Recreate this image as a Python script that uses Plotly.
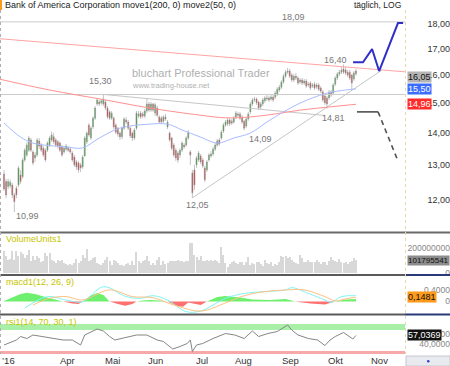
import numpy as np
import plotly.graph_objects as go

W, H = 450, 366

# ---------------- data ----------------
opens = [12.74,12.52,12.38,12.40,12.42,12.14,12.33,12.42,12.71,12.66,
         13.16,13.31,13.46,13.78,13.40,13.22,13.31,13.75,13.62,13.52,
         13.46,13.46,13.62,13.78,13.88,13.78,13.72,13.68,13.56,13.40,
         13.49,13.52,13.49,13.37,13.25,13.10,13.07,13.01,12.95,13.28,
         13.72,14.26,13.84,14.20,14.49,14.97,15.04,15.01,14.97,15.04,
         14.83,14.70,14.49,14.49,14.26,14.16,14.00,13.88,14.16,14.43,
         14.36,14.16,14.00,13.84,14.16,14.56,14.66,14.63,14.56,14.73,
         14.97,14.76,14.97,14.66,14.83,14.53,14.49,14.39,14.53,14.20,
         14.00,13.84,13.62,13.46,13.37,13.31,13.46,13.62,13.62,13.84,
         13.40,12.77,12.86,13.01,13.16,13.28,13.16,12.92,12.86,13.16,
         13.28,13.34,13.49,13.62,13.78,13.84,14.06,14.26,14.30,14.43,
         14.39,14.36,14.53,14.63,14.63,14.53,14.39,14.23,14.46,14.70,
         14.97,15.11,15.14,15.04,14.87,14.97,15.08,15.14,15.18,15.14,
         15.21,15.21,15.31,15.46,15.56,15.75,15.96,16.11,16.15,16.00,
         15.82,15.96,15.89,15.75,15.82,15.71,15.78,15.64,15.71,15.60,
         15.67,15.57,15.64,15.53,15.39,15.25,15.18,15.18,15.39,15.35,
         15.67,15.89,16.04,16.11,16.23,16.19,16.11,16.11,16.00,15.86,
         16.15]
highs = [12.85,12.60,12.60,12.58,12.48,12.20,12.40,12.98,12.85,13.22,
         13.52,13.70,13.90,13.84,13.46,13.40,13.84,13.84,13.68,13.59,
         13.52,13.74,13.90,14.05,14.00,13.84,13.78,13.74,13.62,13.59,
         13.65,13.59,13.56,13.43,13.31,13.16,13.13,13.07,13.31,13.90,
         14.05,14.32,14.22,14.55,14.90,15.15,15.11,15.15,15.30,15.11,
         14.90,14.76,14.73,14.55,14.32,14.20,14.05,14.22,14.52,14.52,
         14.43,14.20,14.05,14.16,14.73,14.73,14.73,14.70,14.80,15.15,
         15.04,15.04,15.01,15.01,14.90,14.59,14.56,14.59,14.63,14.43,
         14.05,13.88,13.68,13.52,13.43,13.52,13.74,13.68,13.90,14.10,
         13.46,12.86,13.01,13.28,13.43,13.34,13.22,12.98,13.16,13.37,
         13.43,13.56,13.68,13.81,13.84,14.10,14.33,14.43,14.49,14.49,
         14.46,14.56,14.73,14.70,14.70,14.59,14.43,14.52,14.70,15.04,
         15.18,15.22,15.20,15.08,15.04,15.18,15.25,15.28,15.25,15.28,
         15.28,15.42,15.56,15.64,15.82,16.04,16.19,16.27,16.23,16.08,
         16.04,16.08,15.96,15.89,15.89,15.86,15.86,15.75,15.78,15.71,
         15.75,15.71,15.71,15.60,15.46,15.31,15.25,15.46,15.46,15.71,
         15.96,16.11,16.19,16.30,16.40,16.30,16.19,16.19,16.04,16.15,
         16.23]
lows = [12.25,12.05,12.30,12.33,12.05,11.67,12.05,12.36,12.45,12.60,
        13.10,13.25,13.40,13.40,13.00,13.10,13.25,13.50,13.40,13.25,
        13.10,13.40,13.56,13.72,13.65,13.56,13.50,13.40,13.25,13.35,
        13.43,13.40,13.35,13.10,12.95,12.86,12.78,12.80,12.89,13.26,
        13.65,13.88,13.78,14.13,14.43,14.90,14.90,14.94,14.90,14.76,
        14.46,14.43,14.43,14.13,13.97,13.88,13.78,13.81,14.10,14.30,
        14.10,13.84,13.75,13.78,14.10,14.49,14.46,14.49,14.49,14.66,
        14.70,14.70,14.70,14.56,14.53,14.30,14.30,14.33,14.40,14.13,
        13.72,13.46,13.25,13.13,13.07,13.22,13.40,13.50,13.56,13.78,
        13.01,12.05,12.28,12.92,13.10,13.04,12.92,12.50,12.80,13.10,
        13.22,13.28,13.43,13.56,13.59,13.78,14.00,14.20,14.23,14.23,
        14.26,14.30,14.46,14.53,14.43,14.30,14.09,14.16,14.40,14.63,
        14.90,15.04,14.94,14.76,14.80,14.90,15.01,15.08,15.04,15.08,
        15.04,15.14,15.25,15.39,15.49,15.68,15.89,16.04,15.89,15.75,
        15.75,15.82,15.64,15.68,15.64,15.64,15.53,15.57,15.46,15.53,
        15.46,15.50,15.42,15.35,15.04,14.94,14.81,15.11,15.21,15.28,
        15.60,15.82,15.96,16.04,16.04,16.00,15.93,15.82,15.46,15.78,
        15.98]
closes = [12.31,12.14,12.52,12.50,12.14,11.95,12.14,12.92,12.52,13.16,
          13.46,13.62,13.84,13.46,13.07,13.31,13.78,13.59,13.46,13.31,
          13.16,13.68,13.84,13.94,13.72,13.62,13.59,13.46,13.31,13.52,
          13.59,13.46,13.40,13.16,13.01,12.95,12.86,12.92,13.25,13.84,
          14.00,13.94,14.16,14.49,14.83,15.11,14.97,15.08,15.14,14.83,
          14.53,14.49,14.66,14.20,14.03,13.97,13.88,14.16,14.46,14.36,
          14.16,13.91,13.84,14.10,14.66,14.63,14.53,14.56,14.73,14.97,
          14.76,14.97,14.76,14.94,14.59,14.36,14.36,14.53,14.46,14.36,
          13.78,13.52,13.31,13.22,13.16,13.46,13.68,13.56,13.84,14.03,
          13.31,12.20,12.42,13.22,13.37,13.10,12.98,12.57,13.10,13.31,
          13.34,13.49,13.62,13.75,13.65,14.03,14.26,14.36,14.43,14.30,
          14.33,14.49,14.66,14.59,14.49,14.36,14.16,14.46,14.63,14.97,
          15.11,15.14,15.01,14.83,14.97,15.11,15.18,15.18,15.11,15.21,
          15.11,15.35,15.49,15.56,15.75,15.96,16.11,16.15,15.96,15.82,
          15.96,15.89,15.71,15.82,15.71,15.78,15.60,15.67,15.53,15.64,
          15.53,15.64,15.49,15.42,15.11,15.01,14.97,15.39,15.28,15.64,
          15.89,16.04,16.11,16.19,16.11,16.08,16.00,15.89,15.71,16.08,
          16.05]
volume_m = [179,133,107,115,173,107,173,133,165,152,
            120,147,187,93,133,107,133,120,88,93,
            160,133,160,107,93,80,107,93,101,80,
            72,67,72,61,80,115,80,93,147,120,
            195,93,107,120,125,80,72,67,80,107,
            125,93,67,107,93,80,67,61,53,72,
            80,67,93,67,168,93,80,93,107,133,
            93,67,80,67,107,125,67,93,72,80,
            93,99,93,99,104,93,99,88,99,93,
            240,240,147,125,107,133,99,93,107,99,
            107,93,107,93,80,205,147,
            77,51,69,85,96,77,69,85,91,64,
            85,131,64,77,69,85,91,69,59,104,
            77,69,85,59,69,64,91,136,131,136,
            117,131,104,91,77,69,144,117,91,85,
            104,91,85,91,104,85,69,91,85,64,
            96,131,104,96,91,112,85,77,85,69,
            85,96,117,101.795541]

# moving averages (knots)
ma200_x = [-2, 22, 49, 70.5, 94.7, 107, 119, 131, 143, 157.5, 170]
ma200_y = [15.85, 15.46, 15.11, 14.83, 14.59, 14.50, 14.53, 14.63, 14.76, 14.87, 14.96]
ma50_x = [0, 8, 14, 30, 38, 46, 56, 70, 79, 86, 95, 103, 111, 119, 127, 135, 143, 149, 156, 165, 170]
ma50_y = [14.33, 13.87, 13.68, 13.56, 13.53, 13.84, 14.16, 14.29, 14.29, 14.10, 13.87, 13.68,
          13.84, 14.00, 14.36, 14.70, 15.00, 15.18, 15.35, 15.46, 15.50]

# levels / trend lines
levels = [18.09, 15.30]
level_x = [-2, 194]
res_x, res_y = [-2, 194], [17.40, 16.12]
down_x, down_y = [48.5, 155], [15.30, 14.58]
sup_x, sup_y = [91.3, 182.6], [12.07, 16.19]
bull_x = [168.6, 173.4, 177.8, 181.2, 190.3, 192.8]
bull_y = [16.48, 16.48, 16.99, 16.15, 18.04, 18.04]
bear_x1, bear_y1 = [170.5, 180.7], [14.70, 14.70]
bear_x2, bear_y2 = [180.7, 189.9], [14.70, 13.19]

# MACD
macd_x = [10, 21, 30, 38, 48, 59, 66, 72, 79, 88, 95, 101, 107, 116, 126, 136, 139, 145, 155, 158, 163, 170]
macd_y = [-0.23, 0.17, 0.05, -0.01, 0.51, 0.17, 0.11, 0.20, 0.05, -0.35, -0.33, -0.12, 0.11,
          0.28, 0.34, 0.40, 0.48, 0.34, 0.05, -0.03, 0.17, 0.20]
sig_x = [14, 22, 30, 38, 51, 62, 72, 82, 95, 107, 116, 126, 137, 145, 155, 160, 165, 170]
sig_y = [-0.12, 0.11, 0.17, 0.05, 0.40, 0.17, 0.13, -0.12, -0.33, -0.05, 0.20, 0.34, 0.40,
         0.40, 0.17, 0.02, 0.09, 0.1481]
hist_x = [0, 3, 8, 11, 15, 20, 25, 28.5, 33, 36, 38, 41.5, 45, 48, 51, 55, 58.5, 62, 64, 67, 70.5,
          75, 79, 83.5, 86.5, 89, 91, 95, 98, 103, 107, 114, 120, 128.5, 136, 139, 140.5, 148,
          155, 160, 165, 170]
hist_y = [0.02, 0.12, 0.26, 0.30, 0.26, 0.155, 0.07, 0, -0.07, -0.086, 0, 0.19, 0.29, 0.22, 0,
          -0.086, -0.145, -0.086, 0, 0.035, 0.05, 0.035, 0, -0.155, -0.18, -0.035, -0.07, -0.12,
          0, 0.155, 0.19, 0.14, 0.07, 0.05, 0.086, 0.035, 0, -0.07, -0.10, 0, 0.07, 0.086]

# RSI
rsi_x = [0, 3, 6, 8, 11, 14, 19, 24, 28.5, 33, 37, 39, 41.5, 45, 48, 51, 53.5, 59.5, 64, 69, 74,
         77, 81.5, 85, 88.5, 90, 91, 93, 96, 101, 107, 111.5, 116, 120, 123, 127.5, 132, 137,
         139, 142, 147, 151.5, 155, 157.5, 160, 164, 166, 168.5, 170]
rsi_y = [38, 43, 48, 55, 51, 58, 55, 51, 48, 48, 38, 58, 63, 70, 66, 55, 48, 53, 58, 58, 48,
         45, 30, 35, 41, 48, 25, 38, 41, 51, 61, 58, 51, 66, 55, 61, 65, 78, 68, 58, 51, 48,
         37, 48, 55, 63, 58, 50, 57.0369]

month_pos = [30.9, 52.2, 73.4, 95.7, 115.5, 138.6, 159.9, 181.2]
month_txt = ["Apr", "Mai", "Jun", "Jul", "Aug", "Sep", "Okt", "Nov"]
price_ticks = [12, 13, 14, 15, 16, 17, 18]

# ---------------- figure ----------------
idx = list(range(len(closes)))
FONT = "Liberation Sans, Arial, sans-serif"
fig = go.Figure()

def line(x, y, color, width=1, yaxis="y", dash=None, shape="linear"):
    fig.add_trace(go.Scatter(x=x, y=y, mode="lines", xaxis="x", yaxis=yaxis,
                             line=dict(color=color, width=width, dash=dash, shape=shape),
                             hoverinfo="skip"))

for lv in levels:
    line(level_x, [lv, lv], "#cccccc", 1)
line(res_x, res_y, "#ffa4a4", 1)
line(down_x, down_y, "#c6c6c6", 1)
line(sup_x, sup_y, "#c6c6c6", 1)
line(ma200_x, ma200_y, "#ff9090", 1, shape="spline")
line(ma50_x, ma50_y, "#a8bcff", 1, shape="spline")

fig.add_trace(go.Candlestick(
    x=idx, open=opens, high=highs, low=lows, close=closes, xaxis="x", yaxis="y",
    increasing=dict(line=dict(color="#9a9a9a", width=0.6), fillcolor="#1a9e1a"),
    decreasing=dict(line=dict(color="#9a9a9a", width=0.6), fillcolor="#d01c1c"),
    whiskerwidth=0, hoverinfo="skip"))

line(bull_x, bull_y, "#3030c8", 2)
line(bear_x1, bear_y1, "#505050", 1.6)
line(bear_x2, bear_y2, "#505050", 1.6, dash="5px,4px")

# volume
fig.add_trace(go.Bar(x=idx, y=[v * 1e6 for v in volume_m], xaxis="x", yaxis="y2",
                     width=0.5, marker=dict(color="#d8d8d8", line=dict(width=0)),
                     hoverinfo="skip"))

# MACD
hv = np.array(hist_y)
fig.add_trace(go.Scatter(x=hist_x, y=np.clip(hv, 0, None), xaxis="x", yaxis="y3", mode="lines",
                         line=dict(width=0), fill="tozeroy", fillcolor="#6ef06e", hoverinfo="skip"))
fig.add_trace(go.Scatter(x=hist_x, y=np.clip(hv, None, 0), xaxis="x", yaxis="y3", mode="lines",
                         line=dict(width=0), fill="tozeroy", fillcolor="#ff7070", hoverinfo="skip"))
line(macd_x, macd_y, "#7ff4f4", 1, yaxis="y3", shape="spline")
line(sig_x, sig_y, "#ffc080", 1, yaxis="y3", shape="spline")

# RSI
line(rsi_x, rsi_y, "#858585", 1, yaxis="y4")

def dom(top_px, bot_px):
    return [1 - bot_px / H, 1 - top_px / H]

axis_common = dict(showgrid=False, zeroline=False, showline=False, ticks="",
                   anchor="free", position=1.0, side="left", fixedrange=True, automargin=False)

fig.update_layout(
    width=W, height=H, margin=dict(l=0, r=0, t=0, b=0, autoexpand=False),
    paper_bgcolor="white", plot_bgcolor="white", showlegend=False,
    font=dict(family=FONT, size=9, color="#333"),
    xaxis=dict(domain=[0, 405 / W], range=[-1.93, 193.7], anchor="y4",
               showgrid=False, zeroline=False, showline=False, ticks="",
               showticklabels=False, automargin=False, rangeslider=dict(visible=False)),
    yaxis=dict(domain=dom(0, 232), type="log", range=[1.0471, 1.2793],
               tickvals=price_ticks, ticktext=[f"{t},00" for t in price_ticks],
               tickfont=dict(size=9, color="#333"), **axis_common),
    yaxis2=dict(domain=dom(234, 274), range=[-8e6, 312e6],
                tickvals=[0, 200e6], ticktext=["0", "200000000"],
                tickfont=dict(size=8.5, color="#888"), **axis_common),
    yaxis3=dict(domain=dom(277, 313), range=[-0.397, 0.845],
                tickvals=[0, 0.4], ticktext=["0", "0,4000"],
                tickfont=dict(size=8.5, color="#888"), **axis_common),
    yaxis4=dict(domain=dom(316, 354), range=[20, 96],
                tickvals=[40, 60], ticktext=["40,0000", "60,0000"],
                tickfont=dict(size=8.5, color="#888"), **axis_common),
    bargap=0,
)

shapes = []
def pline(x0, y0, x1, y1, color, width=1, dash=None):
    shapes.append(dict(type="line", xref="paper", yref="paper", x0=x0 / W, x1=x1 / W,
                       y0=1 - y0 / H, y1=1 - y1 / H, line=dict(color=color, width=width, dash=dash)))

# panel separators
pline(0, 232.5, W, 232.5, "#6a6a6a", 2)
pline(0, 275, 405, 275, "#5a5a5a", 2)
pline(405, 275, W, 275, "#2a3a78", 2)
pline(0, 314.5, 405, 314.5, "#5a5a5a", 2)
pline(405, 314.5, W, 314.5, "#2a3a78", 2)
# dotted borders
pline(0.5, 10, 0.5, 354, "#b0b0b0", 1, "dot")
pline(405.5, 10, 405.5, 354, "#e6d8a8", 1, "dot")
# RSI zones
shapes.append(dict(type="rect", xref="paper", yref="y4", x0=0, x1=405 / W, y0=68, y1=80,
                   fillcolor="#a8f0a8", line=dict(width=0), layer="below"))
shapes.append(dict(type="rect", xref="paper", yref="y4", x0=0, x1=405 / W, y0=20, y1=26,
                   fillcolor="#f7a8a8", line=dict(width=0), layer="below"))
# orange marker & bottom-right button
shapes.append(dict(type="rect", xref="paper", yref="paper", x0=0, x1=2 / W, y0=1 - 10 / H, y1=1,
                   fillcolor="#ff9a1a", line=dict(width=0)))
shapes.append(dict(type="rect", xref="paper", yref="paper", x0=406 / W, x1=1, y0=0, y1=1 - 356 / H,
                   fillcolor="#e9e9f0", line=dict(color="#c8c8d0", width=1)))
shapes.append(dict(type="circle", xref="paper", yref="paper", x0=427 / W, x1=429.5 / W,
                   y0=1 - 362.5 / H, y1=1 - 360 / H, fillcolor="#3040c0", line=dict(width=0)))
fig.update_layout(shapes=shapes)

ann = []
def ptext(x, y, text, size=9, color="#333", xanchor="left", family=FONT):
    ann.append(dict(xref="paper", yref="paper", x=x / W, y=1 - y / H, text=text, showarrow=False,
                    xanchor=xanchor, yanchor="middle", font=dict(size=size, color=color, family=family)))

ptext(3, 5.5, "Bank of America Corporation move1(200, 0) move2(50, 0)", 9, "#222")
ptext(403, 5.5, "täglich, LOG", 8.5, "#222", "right")
ptext(130, 73, "bluchart Professional Trader", 11, "#b0b0b0")
ptext(130, 85, "www.trading-house.net", 7.5, "#b0b0b0")
for txt, x, y in [("18,09", 293, 17), ("16,40", 335, 60), ("15,30", 100, 81), ("14,81", 333, 118),
                  ("14,09", 260, 139), ("12,05", 197, 205), ("10,99", 27, 216)]:
    ptext(x, y, txt, 9, "#777", "center")
ptext(4, 239, "VolumeUnits1", 9, "#c8c400")
ptext(4, 281.5, "macd1(12, 26, 9)", 9, "#c8c400")
ptext(4, 322, "rsi1(14, 70, 30, 1)", 9, "#c8c400")
ptext(0, 360.5, "’16", 9.5, "#333", "left")

# month labels placed on the shared index axis
for pos, txt in zip(month_pos, month_txt):
    ann.append(dict(xref="x", yref="paper", x=pos, y=1 - 360.5 / H, text=txt, showarrow=False,
                    xanchor="center", yanchor="middle", font=dict(size=9.5, color="#333", family=FONT)))

def tag(yref, y, text, bg, fg, yshift=0, size=9):
    ann.append(dict(xref="paper", yref=yref, x=407 / W, y=y, text=text, showarrow=False,
                    xanchor="left", yanchor="middle", bgcolor=bg, borderpad=0, yshift=yshift,
                    font=dict(size=size, color=fg, family=FONT)))

tag("y", np.log10(closes[-1]), "16,05", "#b4b4b4", "#111", -3)
tag("y", np.log10(ma50_y[-1]), "15,50", "#3a6cff", "white")
tag("y", np.log10(ma200_y[-1]), "14,96", "#ff2a2a", "white")
tag("y2", volume_m[-1] * 1e6, "101795541", "#8c8c8c", "#111", 0, 8)
tag("y3", sig_y[-1], "0,1481", "#ff9a1a", "#111")
tag("y4", rsi_y[-1], "57,0369", "#111111", "white")
fig.update_layout(annotations=ann)

fig.write_html("out.html")
